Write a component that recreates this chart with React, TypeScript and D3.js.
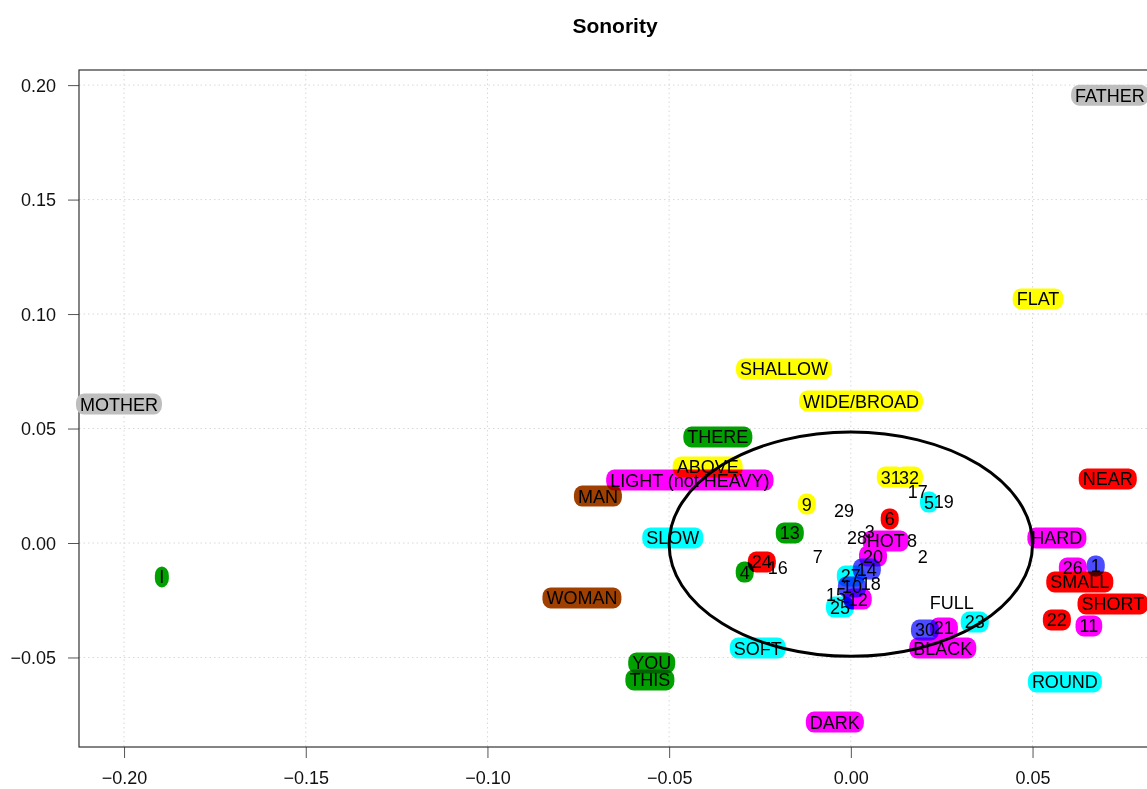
import React, { useEffect, useRef } from "react";
import * as d3 from "d3";

const W = 1147;
const H = 789;
const TITLE = "Sonority";

const xTicks = [-0.2, -0.15, -0.1, -0.05, 0, 0.05];
const yTicks = [0.2, 0.15, 0.1, 0.05, 0, -0.05];

const GREEN = "#00A000";
const MAGENTA = "#FF00FF";
const YELLOW = "#FFFF00";
const CYAN = "#00FFFF";
const RED = "#FF0000";
const BLUE = "#4B4BFF";
const GRAY = "#BEBEBE";
const BROWN = "#A04000";

// word labels: [text, x, y, fill]
const words: [string, number, number, string][] = [
  ["FATHER", 0.0713, 0.1956, GRAY],
  ["FLAT", 0.0515, 0.1066, YELLOW],
  ["SHALLOW", -0.0184, 0.076, YELLOW],
  ["WIDE/BROAD", 0.0028, 0.062, YELLOW],
  ["MOTHER", -0.2014, 0.0607, GRAY],
  ["THERE", -0.0366, 0.0463, GREEN],
  ["ABOVE", -0.0394, 0.0332, YELLOW],
  ["LIGHT (not HEAVY)", -0.0443, 0.0275, MAGENTA],
  ["MAN", -0.0696, 0.0205, BROWN],
  ["NEAR", 0.0707, 0.028, RED],
  ["SLOW", -0.049, 0.0022, CYAN],
  ["HARD", 0.0567, 0.0022, MAGENTA],
  ["HOT", 0.0096, 0.0009, MAGENTA],
  ["I", -0.1896, -0.0148, GREEN],
  ["SMALL", 0.063, -0.017, RED],
  ["WOMAN", -0.074, -0.024, BROWN],
  ["SHORT", 0.0721, -0.0266, RED],
  ["BLACK", 0.0253, -0.0459, MAGENTA],
  ["SOFT", -0.0256, -0.0459, CYAN],
  ["YOU", -0.0548, -0.0524, GREEN],
  ["THIS", -0.0553, -0.0598, GREEN],
  ["ROUND", 0.0589, -0.0607, CYAN],
  ["DARK", -0.0044, -0.0782, MAGENTA],
  ["FULL", 0.0278, -0.0258, "none"],
];

// numbered stimuli: [text, x, y, fill]
const numbers: [string, number, number, string][] = [
  ["31", 0.011, 0.0288, YELLOW],
  ["32", 0.016, 0.0288, YELLOW],
  ["17", 0.0184, 0.0223, "none"],
  ["5", 0.0215, 0.0179, CYAN],
  ["19", 0.0256, 0.0183, "none"],
  ["9", -0.0121, 0.017, YELLOW],
  ["29", -0.0019, 0.014, "none"],
  ["6", 0.0107, 0.0105, RED],
  ["13", -0.0168, 0.0044, GREEN],
  ["28", 0.0017, 0.0022, "none"],
  ["3", 0.0052, 0.0052, "none"],
  ["8", 0.0168, 0.0009, "none"],
  ["20", 0.0061, -0.0057, MAGENTA],
  ["2", 0.0198, -0.0061, "none"],
  ["7", -0.0091, -0.0061, "none"],
  ["14", 0.0044, -0.0114, BLUE],
  ["27", 0.0, -0.0144, CYAN],
  ["18", 0.0055, -0.0175, "none"],
  ["10", 0.0003, -0.0192, BLUE],
  ["15", -0.0041, -0.0227, "none"],
  ["12", 0.0019, -0.0245, MAGENTA],
  ["25", -0.003, -0.028, CYAN],
  ["16", -0.0201, -0.0105, "none"],
  ["24", -0.0245, -0.0083, RED],
  ["4", -0.0292, -0.0127, GREEN],
  ["30", 0.0204, -0.038, BLUE],
  ["21", 0.0256, -0.0371, MAGENTA],
  ["23", 0.0341, -0.0345, CYAN],
  ["26", 0.0611, -0.0109, MAGENTA],
  ["1", 0.0674, -0.01, BLUE],
  ["22", 0.0567, -0.0336, RED],
  ["11", 0.0655, -0.0362, MAGENTA],
];

// confidence ellipse: centre and radii in data units
const ellipseCenter = [0, -0.0005];
const ellipseRadii = [0.05, 0.049];

const FONT = "'Liberation Sans', Arial, sans-serif";

export default function App() {
  const ref = useRef<SVGSVGElement | null>(null);

  useEffect(() => {
    const svg = d3.select(ref.current);
    svg.selectAll("*").remove();

    const left = 79, right = 1151, top = 70, bottom = 747;
    const x = d3.scaleLinear().domain([-0.2124, 0.0826]).range([left, right]);
    const y = d3.scaleLinear().domain([-0.0891, 0.2066]).range([bottom, top]);

    // title
    svg.append("text")
      .attr("x", (left + right) / 2)
      .attr("y", 33)
      .attr("text-anchor", "middle")
      .attr("font-family", FONT)
      .attr("font-weight", "bold")
      .attr("font-size", 21)
      .text(TITLE);

    // grid
    const grid = svg.append("g").attr("stroke", "#d8d8d8").attr("stroke-dasharray", "1.5,3");
    xTicks.forEach((t) => {
      grid.append("line").attr("x1", x(t)).attr("x2", x(t)).attr("y1", top).attr("y2", bottom);
    });
    yTicks.forEach((t) => {
      grid.append("line").attr("x1", left).attr("x2", right).attr("y1", y(t)).attr("y2", y(t));
    });

    // axes
    const fmt = (v: number) => (v < 0 ? "\u2212" : "") + Math.abs(v).toFixed(2);
    const xAxis = svg.append("g").attr("transform", `translate(0,${bottom})`)
      .call(d3.axisBottom(x).tickValues(xTicks).tickSize(11).tickPadding(13).tickFormat((d: any) => fmt(+d)));
    const yAxis = svg.append("g").attr("transform", `translate(${left},0)`)
      .call(d3.axisLeft(y).tickValues(yTicks).tickSize(11).tickPadding(12).tickFormat((d: any) => fmt(+d)));
    [xAxis, yAxis].forEach((a) => {
      a.select(".domain").remove();
      a.selectAll("line").attr("stroke", "#555").attr("stroke-width", 1);
      a.selectAll("text").attr("font-family", FONT).attr("font-size", 18).attr("fill", "#111");
    });
    yAxis.selectAll("text").attr("dy", "0.35em");

    // plot frame
    svg.append("rect")
      .attr("x", left).attr("y", top)
      .attr("width", right - left).attr("height", bottom - top)
      .attr("fill", "none").attr("stroke", "#333").attr("stroke-width", 1.2);

    // labels: boxes first (multiplied), then text
    const all = [...words, ...numbers];
    const boxes = svg.append("g").style("isolation", "isolate");
    const texts = svg.append("g");
    all.forEach(([t, vx, vy, fill]) => {
      const tx = texts.append("text")
        .attr("x", x(vx)).attr("y", y(vy))
        .attr("text-anchor", "middle")
        .attr("dy", "0.36em")
        .attr("font-family", FONT)
        .attr("font-size", 18)
        .attr("fill", "#000")
        .text(t);
      if (fill !== "none") {
        const node = tx.node() as SVGTextElement;
        const w = node.getComputedTextLength();
        const bw = Math.max(w + 8, 14);
        const bh = 21;
        boxes.append("rect")
          .attr("x", x(vx) - bw / 2)
          .attr("y", y(vy) - bh / 2)
          .attr("width", bw)
          .attr("height", bh)
          .attr("rx", Math.min(8, bw / 2))
          .attr("ry", 9)
          .attr("fill", fill)
          .style("mix-blend-mode", "multiply");
      }
    });

    // ellipse
    svg.append("ellipse")
      .attr("cx", x(ellipseCenter[0]))
      .attr("cy", y(ellipseCenter[1]))
      .attr("rx", x(ellipseRadii[0]) - x(0))
      .attr("ry", y(0) - y(ellipseRadii[1]))
      .attr("fill", "none")
      .attr("stroke", "#000")
      .attr("stroke-width", 3);
  }, []);

  return (
    <div style={{ position: "fixed", left: 0, top: 0, width: W, height: H, overflow: "hidden", background: "#fff" }}>
      <svg ref={ref} width={W} height={H} style={{ display: "block" }} />
    </div>
  );
}
